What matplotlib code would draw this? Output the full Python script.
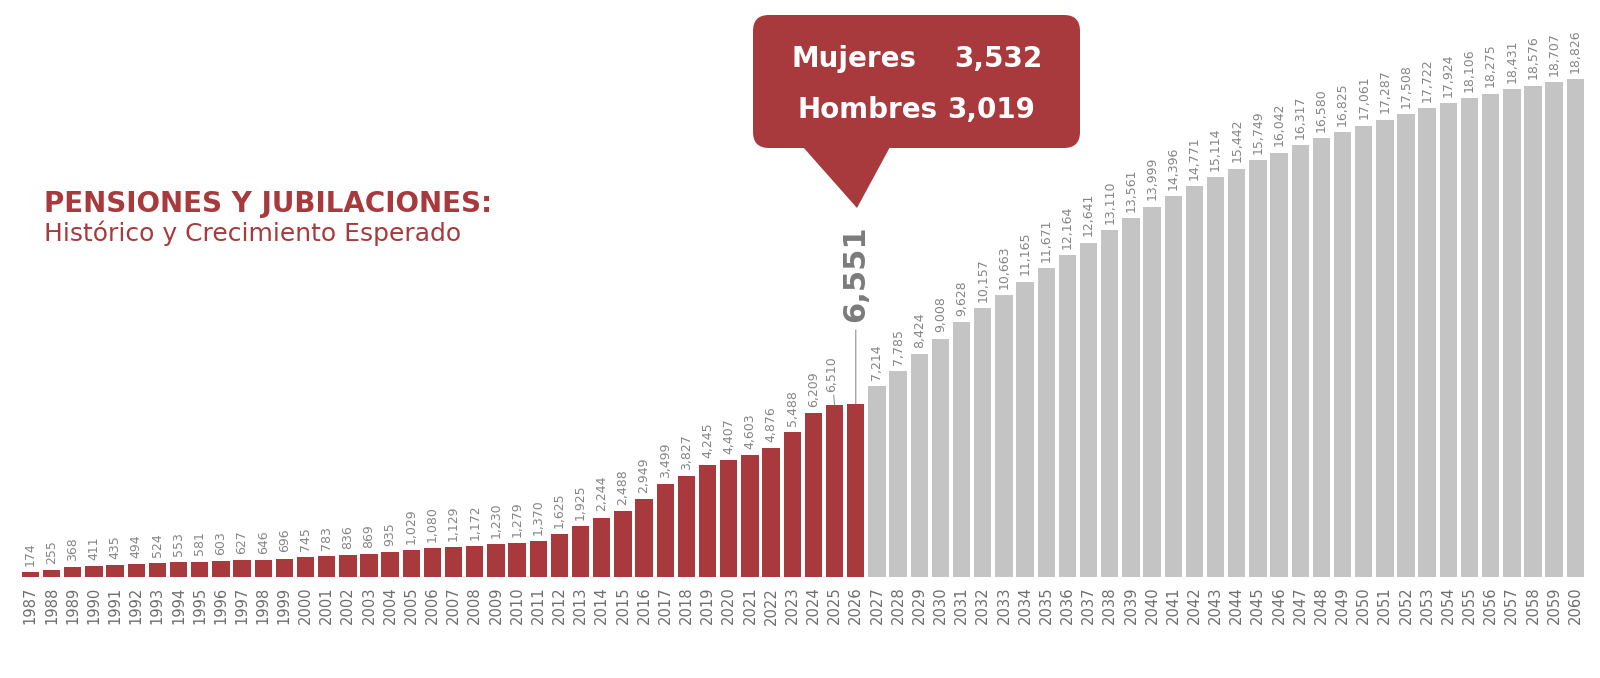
import matplotlib
matplotlib.use("Agg")
import matplotlib.pyplot as plt
from matplotlib.patches import FancyBboxPatch, Polygon

years = list(range(1987, 2061))
values = [174, 255, 368, 411, 435, 494, 524, 553, 581, 603, 627, 646, 696, 745, 783,
          836, 869, 935, 1029, 1080, 1129, 1172, 1230, 1279, 1370, 1625, 1925, 2244,
          2488, 2949, 3499, 3827, 4245, 4407, 4603, 4876, 5488, 6209, 6510, 6551,
          7214, 7785, 8424, 9008, 9628, 10157, 10663, 11165, 11671, 12164, 12641,
          13110, 13561, 13999, 14396, 14771, 15114, 15442, 15749, 16042, 16317,
          16580, 16825, 17061, 17287, 17508, 17722, 17924, 18106, 18275, 18431,
          18576, 18707, 18826]
last_historic = 2026
highlight_year = 2026
leader_year = 2025
title = "PENSIONES Y JUBILACIONES:"
subtitle = "Histórico y Crecimiento Esperado"
callout_rows = [("Mujeres", "3,532"), ("Hombres", "3,019")]

RED = "#A8393D"
GRAY_BAR = "#C4C4C4"
LABEL_GRAY = "#858585"
YEAR_GRAY = "#6E6E6E"
BIG_GRAY = "#7B7B7B"

W, H = 1600, 678
fig = plt.figure(figsize=(W / 100, H / 100), dpi=100)
plt.rcParams['font.family'] = ['DejaVu Sans']

def fx(px):
    return px / W

def fy(py):
    return 1 - py / H

# axes placement (pixels)
ax_left, ax_right = 19.8, 1585.9
base_y, top_y = 577, 10
scale = 498 / 18826.0
ax = fig.add_axes([fx(ax_left), fy(base_y), (ax_right - ax_left) / W, (base_y - top_y) / H])
ymax = (base_y - top_y) / scale
n = len(years)
xs = list(range(n))
colors = [RED if y <= last_historic else GRAY_BAR for y in years]
ax.bar(xs, values, width=0.82, color=colors, linewidth=0)
ax.set_xlim(-0.5, n - 0.5)
ax.set_ylim(0, ymax)
for s in ax.spines.values():
    s.set_visible(False)
ax.set_yticks([])
ax.set_xticks(xs)
ax.set_xticklabels([str(y) for y in years], rotation=90, fontsize=10.6,
                   color=YEAR_GRAY, va='top')
ax.tick_params(axis='x', length=0, pad=7)

for x, y, v in zip(xs, years, values):
    lab = f"{v:,}"
    if y == highlight_year:
        ax.annotate(lab, xy=(x, v), xytext=(0, 59), textcoords='offset points',
                    rotation=90, ha='center', va='bottom', fontsize=22,
                    fontweight='bold', color=BIG_GRAY,
                    arrowprops=dict(arrowstyle='-', color="#9a9a9a", lw=0.9,
                                    shrinkA=4, shrinkB=0))
    elif y == leader_year:
        ax.annotate(lab, xy=(x, v), xytext=(-2, 9), textcoords='offset points',
                    rotation=90, ha='center', va='bottom', fontsize=9,
                    color=LABEL_GRAY,
                    arrowprops=dict(arrowstyle='-', color="#9a9a9a", lw=0.8,
                                    shrinkA=0, shrinkB=0))
    else:
        ax.annotate(lab, xy=(x, v), xytext=(0, 4.5), textcoords='offset points',
                    rotation=90, ha='center', va='bottom', fontsize=9,
                    color=LABEL_GRAY)

# title
fig.text(fx(44), fy(212), title, fontsize=20, fontweight='bold', color=RED,
         ha='left', va='baseline')
fig.text(fx(44), fy(241), subtitle, fontsize=18, color=RED,
         ha='left', va='baseline')

# callout box
bx0, by0, bx1, by1 = 753, 15, 1080, 148
r = 16
box = FancyBboxPatch((fx(bx0 + r), fy(by1 - r)), fx(bx1 - bx0 - 2 * r), (by1 - by0 - 2 * r) / H,
                     boxstyle=f"round,pad={r / W},rounding_size={r / W}",
                     transform=fig.transFigure, facecolor=RED, edgecolor='none',
                     mutation_aspect=W / H)
fig.patches.append(box)
tri = Polygon([(fx(803), fy(147)), (fx(890), fy(147)), (fx(857), fy(208))],
              closed=True, transform=fig.transFigure, facecolor=RED, edgecolor='none')
fig.patches.append(tri)

row_base = [67, 118]
left_x = [792, 797]
right_x = [1042, 1035]
for (name, val), b, lx, rx in zip(callout_rows, row_base, left_x, right_x):
    fig.text(fx(lx), fy(b), name, fontsize=20, color='white', ha='left', va='baseline',
             fontweight='bold')
    fig.text(fx(rx), fy(b), val, fontsize=20, color='white', ha='right', va='baseline',
             fontweight='bold')

fig.savefig("out.png", dpi=100, facecolor='white')
